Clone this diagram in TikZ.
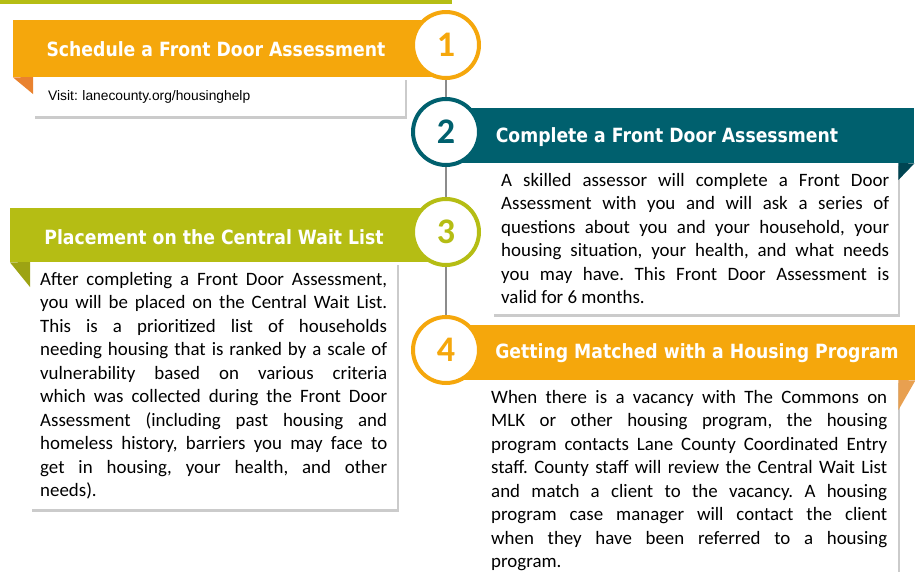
\documentclass[tikz,border=0pt]{standalone}
\usepackage{fontspec}
\setmainfont{Carlito}
\newfontfamily\headfont{DejaVu Sans}[FakeStretch=0.88]
\newfontfamily\webfont{Liberation Sans}
\usetikzlibrary{shadows}

\definecolor{orangeA}{HTML}{F5A70C}
\definecolor{tealA}{HTML}{00606E}
\definecolor{greenA}{HTML}{B5BD14}
\definecolor{foldOrange}{HTML}{E9822F}
\definecolor{foldTeal}{HTML}{004552}
\definecolor{foldGreen}{HTML}{9DA313}
\definecolor{foldPeach}{HTML}{E8A050}
\definecolor{linkGray}{HTML}{8C8C8C}

\begin{document}
\frenchspacing
\tolerance=9999
\hyphenpenalty=10000
\begin{tikzpicture}[
    x=1pt, y=-1pt,
    ribbon/.style={rectangle, inner sep=0pt, anchor=north west, fill=#1},
    heading/.style={text=white, inner sep=0pt, font=\headfont\bfseries\fontsize{19.6}{19.6}\selectfont},
    stepcircle/.style={circle, draw=#1, line width=4pt, fill=white, minimum size=66pt, inner sep=0pt, text=#1, font=\bfseries\fontsize{36}{36}\selectfont},
    infobox/.style={rectangle, fill=white, anchor=north west, inner ysep=10pt, align=justify,
        font=\fontsize{18.9}{23.5}\selectfont,
        drop shadow={shadow xshift=2pt, shadow yshift=-3pt, fill=black!45, opacity=0.45}},
    link/.style={draw=linkGray, line width=1.2pt},
]
\useasboundingbox (0,0) rectangle (915,571);

% Heading underline (cut off at the top)
\fill[greenA] (0,0) rectangle (452,4);

% Ribbons
\node[ribbon=orangeA, minimum width=434pt, minimum height=57pt] (ban1) at (13,20) {};
\node[ribbon=tealA, minimum width=468pt, minimum height=55pt] (ban2) at (446,108) {};
\node[ribbon=greenA, minimum width=436pt, minimum height=54pt] (ban3) at (10,208) {};
\node[ribbon=orangeA, minimum width=469pt, minimum height=55pt] (ban4) at (446,325) {};

\node[heading] (head1) at (216,49) {Schedule a Front Door Assessment};
\node[heading] (head2) at (667,137) {Complete a Front Door Assessment};
\node[heading] (head3) at (214,237) {Placement on the Central Wait List};
\node[heading] (head4) at (697,353) {Getting Matched with a Housing Program};

% Text boxes
\node[infobox, align=left, inner xsep=15pt, inner ysep=7pt, text width=342pt, minimum height=39pt,
      font=\webfont\fontsize{13.8}{15}\selectfont] (box1) at (33,77) {Visit: lanecounty.org/housinghelp};
\node[infobox, inner xsep=9pt, text width=388pt] (box2) at (492,163) {A skilled assessor will complete a Front Door\linebreak
Assessment with you and will ask a series of\linebreak
questions about you and your household, your\linebreak
housing situation, your health, and what needs\linebreak
you may have. This Front Door Assessment is\linebreak
valid for 6 months.};
\node[infobox, inner xsep=10pt, text width=347pt] (box3) at (30,262) {After completing a Front Door Assessment,\linebreak
you will be placed on the Central Wait List.\linebreak
This is a prioritized list of households\linebreak
needing housing that is ranked by a scale of\linebreak
vulnerability based on various criteria\linebreak
which was collected during the Front Door\linebreak
Assessment (including past housing and\linebreak
homeless history, barriers you may face to\linebreak
get in housing, your health, and other\linebreak
needs).};
\node[infobox, inner xsep=11pt, text width=396pt] (box4) at (480,380) {When there is a vacancy with The Commons on\linebreak
MLK or other housing program, the housing\linebreak
program contacts Lane County Coordinated Entry\linebreak
staff. County staff will review the Central Wait List\linebreak
and match a client to the vacancy. A housing\linebreak
program case manager will contact the client\linebreak
when they have been referred to a housing\linebreak
program.};

% Folds
\fill[foldOrange] (ban1.south west) -- (box1.north west) -- ([yshift=-17pt]box1.north west) -- cycle;
\fill[foldTeal] (box2.north east) -- (ban2.south east) -- ([yshift=-17pt]box2.north east) -- cycle;
\fill[foldGreen] (ban3.south west) -- (box3.north west) -- ([yshift=-25pt]box3.north west) -- cycle;
\fill[foldPeach] (box4.north east) -- (ban4.south east) -- ([yshift=-30pt]box4.north east) -- cycle;

% Step circles
\node[stepcircle=orangeA] (step1) at (446,45) {1};
\node[stepcircle=tealA] (step2) at (446,132) {2};
\node[stepcircle=greenA] (step3) at (446,232) {3};
\node[stepcircle=orangeA] (step4) at (446,350) {4};

\draw[link] (step1) -- (step2);
\draw[link] (step2) -- (step3);
\draw[link] (step3) -- (step4);

\end{tikzpicture}
\end{document}
